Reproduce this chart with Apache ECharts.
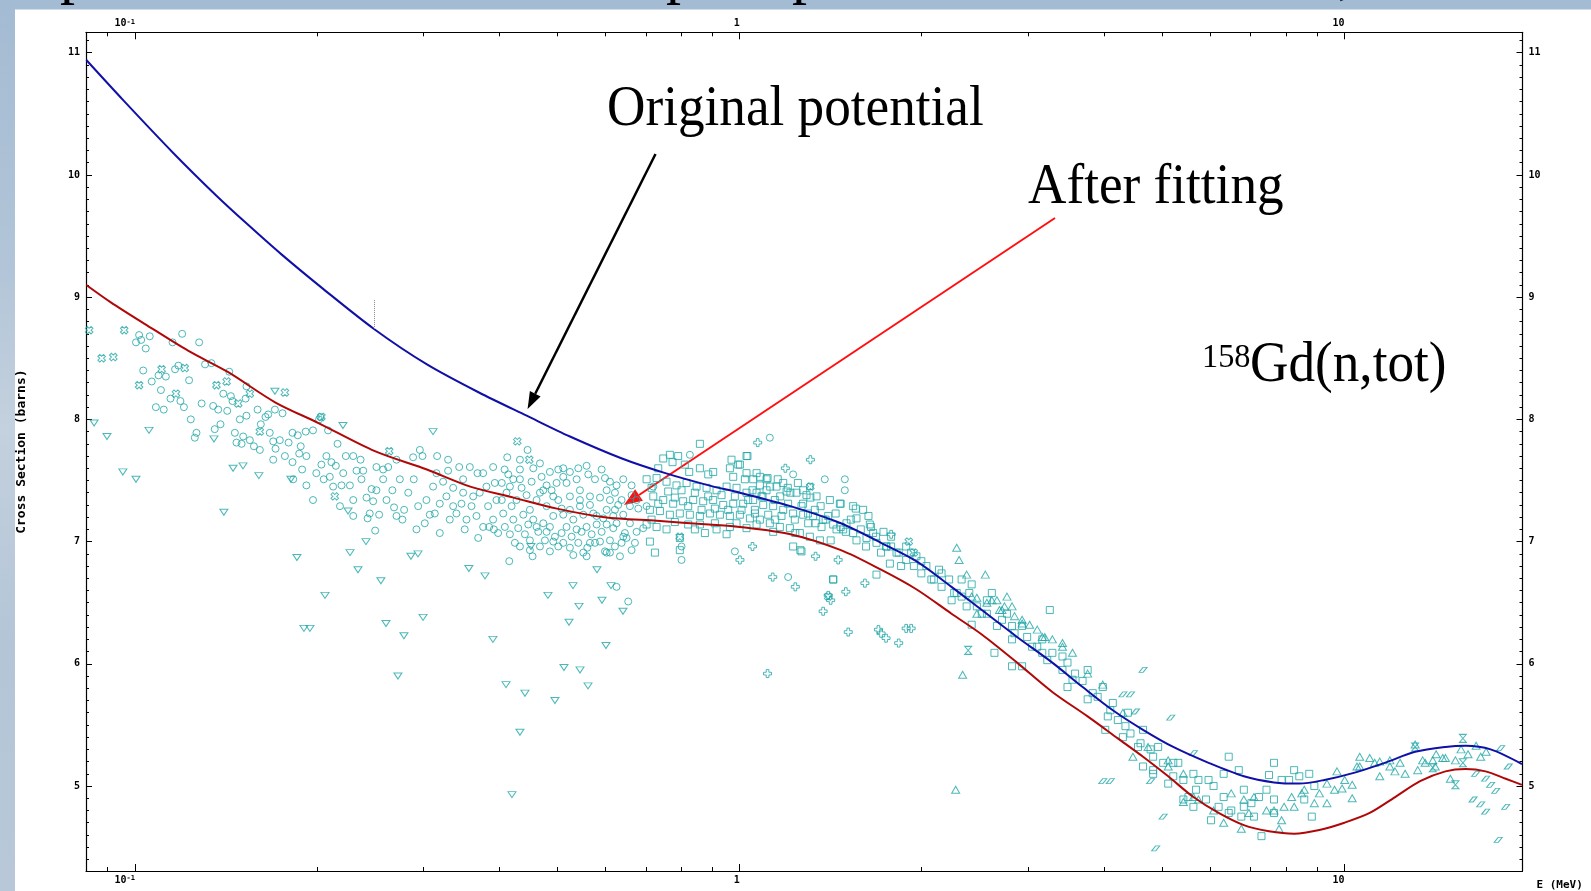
<!DOCTYPE html>
<html>
<head>
<meta charset="utf-8">
<title>158Gd(n,tot)</title>
<script src="https://cdn.jsdelivr.net/npm/echarts@6/dist/echarts.min.js"></script>
<style>
html, body { margin: 0; padding: 0; }
body {
  background: linear-gradient(180deg, #a3bbd3 0%, #b2c5d8 30%, #c4d1de 48%, #b3c5d7 72%, #b8c8d8 100%);
}
#chart { width: 1591px; height: 891px; }
</style>
</head>
<body>
<div id="chart"></div>
<script>
// axis ranges (E in MeV, cross section in barns)
var xMin = 0.083, xMax = 19.7;
var yMin = 4.305, yMax = 11.167;

// tick values and labels
var xMajor = [0.1, 1, 10];
var xMajorLabels = ['10{s|-1}', '1', '10'];
var xMinor = [0.09, 0.2, 0.3, 0.4, 0.5, 0.6, 0.7, 0.8, 0.9, 2, 3, 4, 5, 6, 7, 8, 9];
var yMajor = [5, 6, 7, 8, 9, 10, 11];

// calculated curves [E, sigma]
var originalCurve = [
  [0.0831,10.94],[0.0957,10.61],[0.1157,10.18],[0.1364,9.83],[0.1532,9.60],[0.1747,9.35],
  [0.2045,9.07],[0.2485,8.74],[0.3040,8.45],[0.3706,8.22],[0.4444,8.03],[0.5240,7.86],
  [0.6387,7.68],[0.7535,7.56],[0.8890,7.46],[1.000,7.40],[1.213,7.29],[1.470,7.15],
  [1.713,6.99],[1.959,6.84],[2.240,6.63],[2.514,6.44],[2.875,6.22],[3.288,6.01],
  [3.691,5.81],[4.140,5.62],[4.645,5.46],[5.211,5.32],[5.962,5.19],[6.818,5.08],
  [7.648,5.03],[8.420,5.02],[9.267,5.05],[10.40,5.11],[11.66,5.19],[13.09,5.28],
  [14.69,5.32],[15.86,5.33],[17.45,5.30],[19.66,5.18]
];
var fittedCurve = [
  [0.0831,9.10],[0.0911,8.96],[0.1039,8.78],[0.1226,8.56],[0.1422,8.39],[0.1705,8.14],
  [0.2011,7.97],[0.2493,7.74],[0.3039,7.59],[0.3585,7.45],[0.4229,7.36],[0.4986,7.27],
  [0.5978,7.20],[0.7294,7.17],[0.8890,7.14],[1.000,7.12],[1.213,7.06],[1.470,6.93],
  [1.713,6.77],[1.959,6.61],[2.240,6.41],[2.514,6.24],[2.875,6.01],[3.288,5.77],
  [3.761,5.57],[4.220,5.39],[4.645,5.24],[5.112,5.08],[5.627,4.91],[6.194,4.78],
  [6.818,4.68],[7.504,4.63],[8.260,4.61],[9.090,4.64],[10.00,4.70],[11.01,4.78],
  [12.13,4.91],[13.34,5.04],[14.69,5.12],[15.86,5.14],[17.12,5.12],[18.48,5.06],[19.66,5.01]
];
// small dotted marker on the original curve
var markerE = 0.2485;
var markerSpan = [8.74, 8.98];

// measured data sets [E, sigma]
var circles = [
  [0.1016,8.69],[0.1004,8.63],[0.1024,8.65],[0.1042,8.58],[0.1058,8.68],[0.1197,8.70],[0.1277,8.63],
  [0.1154,8.63],[0.1032,8.40],[0.1066,8.31],[0.1104,8.24],[0.1125,8.35],[0.1094,8.36],[0.1165,8.41],
  [0.1180,8.44],[0.1229,8.32],[0.1145,8.17],[0.1189,8.15],[0.1083,8.10],[0.1116,8.08],[0.1205,8.10],
  [0.1289,8.13],[0.1237,8.00],[0.1264,7.89],[0.1256,7.85],[0.1355,7.92],[0.1385,7.96],[0.1347,8.11],
  [0.1373,8.08],[0.1421,8.07],[0.1400,8.21],[0.1306,8.45],[0.1338,8.46],[0.1432,8.39],[0.1441,8.19],
  [0.1450,8.15],[0.1524,8.17],[0.1529,8.27],[0.1491,8.00],[0.1529,8.03],[0.1463,7.89],[0.1510,7.86],
  [0.1472,7.81],[0.1501,7.80],[0.1573,7.78],[0.1595,8.08],[0.1615,7.96],[0.1644,8.02],[0.1661,8.04],
  [0.1704,8.08],[0.1754,8.05],[0.1693,7.82],[0.1708,7.76],[0.1671,7.89],[0.1736,7.83],[0.1795,7.81],
  [0.1822,7.89],[0.1859,7.87],[0.1880,7.78],[0.1916,7.90],[0.1970,7.91],[0.2026,8.02],[0.2016,8.00],
  [0.2086,7.91],[0.2163,7.80],[0.1869,7.72],[0.1822,7.65],[0.1890,7.59],[0.1921,7.46],[0.2034,7.63],
  [0.2113,7.65],[0.2052,7.51],[0.2100,7.53],[0.2149,7.62],[0.2232,7.70],[0.2296,7.70],[0.2361,7.67],
  [0.2196,7.46],[0.2267,7.46],[0.2325,7.58],[0.2385,7.58],[0.2415,7.36],[0.2462,7.43],[0.2477,7.33],
  [0.2425,7.19],[0.2496,7.09],[0.2534,7.22],[0.2573,7.59],[0.2623,7.61],[0.2573,7.51],[0.2665,7.42],
  [0.2682,7.28],[0.2769,7.18],[0.2787,7.26],[0.2884,7.69],[0.2959,7.75],[0.2989,7.70],[0.3160,7.70],
  [0.3295,7.58],[0.3437,7.61],[0.3579,7.61],[0.3685,7.56],[0.2891,7.51],[0.2940,7.29],[0.3015,7.15],
  [0.3073,7.22],[0.3192,7.31],[0.3316,7.18],[0.3467,7.31],[0.3534,7.18],[0.3671,7.21],[0.3765,7.12],
  [0.3852,7.12],[0.3695,7.03],[0.3922,7.10],[0.3112,7.45],[0.3233,7.49],[0.3359,7.44],[0.3489,7.40],
  [0.3625,7.37],[0.3813,7.45],[0.3961,7.34],[0.3936,7.48],[0.3359,7.29],
  [0.1921,7.70],[0.1995,7.56],[0.2073,7.70],[0.2127,7.45],[0.2210,7.56],[0.2296,7.34],[0.2369,7.51],
  [0.2445,7.23],[0.2508,7.42],[0.2606,7.34],[0.2707,7.21],[0.2742,7.51],[0.2831,7.40],[0.2921,7.10],
  [0.3034,7.34],[0.3132,7.23],[0.3192,7.07],[0.3274,7.37],[0.3401,7.23],[0.3510,7.10],[0.3602,7.29],
  [0.3717,7.40],[0.3837,7.29],[0.3911,7.18],[0.3986,7.07],[0.3152,7.56],[0.3295,7.67],[0.3489,7.51],
  [0.3765,7.56],[0.3911,7.61],[0.2707,7.67],[0.2508,7.61],[0.2296,7.21],[0.2183,7.29],[0.1970,7.34],
  [0.1827,7.51],[0.1770,7.70],[0.1693,7.67],[0.1609,7.75],[0.1549,7.83],
  [0.4127,7.69],[0.4085,7.59],[0.4223,7.51],[0.4331,7.59],[0.4459,7.75],[0.4557,7.60],[0.4704,7.53],
  [0.4855,7.57],[0.5012,7.59],[0.5108,7.60],[0.5239,7.57],[0.4794,7.46],[0.4980,7.48],[0.5173,7.48],
  [0.5375,7.51],[0.5619,7.55],[0.5912,7.59],[0.6102,7.49],[0.6258,7.46],[0.6419,7.51],[0.4116,7.40],
  [0.4276,7.34],[0.4442,7.38],[0.4615,7.34],[0.4794,7.29],[0.5012,7.34],[0.5239,7.37],[0.5443,7.34],
  [0.5655,7.37],[0.5875,7.36],[0.6102,7.34],[0.6298,7.30],[0.4064,7.23],[0.4223,7.18],[0.4387,7.22],
  [0.4557,7.18],[0.4734,7.15],[0.4917,7.21],[0.5108,7.22],[0.5307,7.18],[0.5513,7.22],[0.5727,7.23],
  [0.5950,7.19],[0.6180,7.21],[0.6419,7.22],[0.4169,7.06],[0.4414,7.06],[0.4645,7.08],[0.4855,7.12],
  [0.5076,7.07],[0.5273,7.04],[0.5478,7.08],[0.5691,7.06],[0.5912,7.08],[0.6180,7.11],[0.6459,7.07],
  [0.4159,6.84],[0.4545,6.88],[0.5307,6.89],[0.5598,6.95],[0.5764,6.99],[0.5988,6.92],[0.6219,6.96],
  [0.6501,7.03],[0.6711,6.99],[0.6927,7.11],[0.6797,7.27],[0.7016,7.29],[0.7197,7.45],[0.8272,7.71],
  [0.8014,6.96],[0.8014,6.85],[0.6542,6.51],[0.9819,6.92],[1.2026,6.71],[1.1217,7.85],[1.3827,7.51],
  [1.4924,7.51],[1.4924,7.42],[1.2258,7.55],[1.3062,7.45],[0.6258,6.63],[0.6026,6.91],[0.5583,6.88],
  [0.5108,6.99],[0.4917,7.00],[0.4674,6.96],[0.4331,6.96],
  [0.4042,7.34],[0.4196,7.29],[0.4359,7.44],[0.4499,7.26],[0.4674,7.40],[0.4886,7.42],[0.5076,7.27],
  [0.5239,7.26],[0.5443,7.29],[0.5655,7.30],[0.5801,7.21],[0.6026,7.26],[0.6219,7.26],[0.6379,7.34],
  [0.6584,7.29],[0.4090,7.12],[0.4303,7.11],[0.4471,7.14],[0.4615,7.12],[0.4794,7.08],[0.4949,7.04],
  [0.5173,7.12],[0.5375,7.10],[0.5583,7.12],[0.5801,7.14],[0.6026,7.14],[0.6258,7.15],[0.6584,7.15],
  [0.6754,7.08],[0.4249,6.99],[0.4499,7.01],[0.4764,7.01],[0.5012,6.96],[0.5409,6.99],[0.5655,6.99],
  [0.5875,7.00],[0.6102,7.01],[0.6379,6.99],[0.5583,7.62],[0.5764,7.51],[0.5988,7.52],[0.5409,7.60],
  [0.4674,7.64],[0.4331,7.67],[0.4143,7.55],[0.4042,7.48],[0.4528,7.49],[0.5108,7.53],[0.6026,7.42],
  [0.6219,7.40],[0.6626,7.38],[0.6626,7.46],[0.6754,7.34],[0.5443,7.42],[0.4917,7.37],[0.4734,7.42],
  [0.4331,7.51],[0.4169,7.45],[0.6419,7.04],[0.6626,6.93],[0.5513,6.91],[0.5239,6.95],[0.4855,6.92],
  [0.4499,6.93],[0.6102,6.91],[0.6339,6.88]
];
var squares = [
  [0.8594,7.80],[0.7475,7.68],[0.7666,7.71],[0.7912,7.70],[0.7744,7.65],[0.8252,7.57],[0.8594,7.60],
  [0.9694,7.67],[0.9945,7.63],[1.0264,7.70],[0.9041,7.57],[0.9757,7.53],[1.0264,7.56],[1.0529,7.51],
  [1.0800,7.46],[1.1077,7.51],[0.7016,7.51],[0.7288,7.52],[0.7569,7.49],[0.7862,7.46],[0.8169,7.48],
  [0.8486,7.45],[0.8815,7.44],[0.9157,7.42],[0.9513,7.45],[0.9881,7.44],[1.0264,7.40],[1.0664,7.40],
  [1.1077,7.42],[1.1506,7.45],[1.1954,7.41],[1.2416,7.40],[1.2897,7.38],[1.3400,7.37],[1.4097,7.34],
  [1.4643,7.31],[1.5405,7.29],[1.6002,7.26],[0.7197,7.37],[0.7475,7.34],[0.7763,7.31],[0.8063,7.33],
  [0.8378,7.34],[0.8704,7.33],[0.9041,7.34],[0.9393,7.30],[0.9757,7.31],[1.0134,7.31],[1.0529,7.34],
  [1.0937,7.30],[1.1361,7.29],[1.1803,7.26],[1.2258,7.23],[1.2735,7.22],[1.3229,7.21],[1.3745,7.18],
  [1.4277,7.14],[1.4830,7.10],[1.5405,7.07],[1.6207,7.03],[1.6835,6.99],[1.7491,6.96],[1.8170,6.91],
  [0.7105,7.26],[0.7381,7.25],[0.7666,7.22],[0.7962,7.23],[0.8272,7.22],[0.8594,7.21],[0.8928,7.23],
  [0.9275,7.22],[0.9634,7.21],[1.0007,7.22],[1.0397,7.19],[1.0800,7.18],[1.1217,7.15],[1.1653,7.12],
  [1.2106,7.11],[1.2574,7.07],[1.3062,7.04],[1.3572,7.01],[0.7016,7.14],[0.7288,7.12],[0.7569,7.10],
  [0.8431,7.10],[0.8760,7.07],[0.9157,7.10],[0.9881,7.15],[1.0264,7.11],[1.2258,6.96],[1.2654,6.92],
  [1.4277,6.69],[1.5601,7.19],[1.6413,7.14],[1.6623,7.07],[1.7715,6.82],[1.6835,6.73],[0.7962,6.93],
  [0.7962,7.03],[0.7105,7.00],[0.7242,6.91],[0.9513,7.06],[0.8594,7.14],
  [0.7150,7.44],[0.7334,7.31],[0.7617,7.41],[0.7812,7.36],[0.8014,7.42],[0.8220,7.29],[0.8431,7.40],
  [0.8649,7.26],[0.8872,7.37],[0.9099,7.27],[0.9333,7.38],[0.9572,7.26],[0.9818,7.37],[1.0071,7.26],
  [1.0330,7.34],[1.0595,7.26],[1.0867,7.37],[1.1147,7.22],[1.1433,7.34],[1.1727,7.21],[1.2026,7.31],
  [1.2337,7.18],[1.2654,7.29],[1.2980,7.15],[1.3313,7.26],[1.3656,7.12],[1.4007,7.21],[1.4458,7.10],
  [1.5018,7.15],[1.5601,7.01],[0.7334,7.60],[0.8115,7.63],[0.8872,7.55],[0.9634,7.60],[1.0664,7.56],
  [1.1803,7.48],[1.2735,7.42],[0.7150,7.18],[0.7812,7.16],[0.8220,7.14],[0.9099,7.15],[0.9634,7.12],
  [1.0664,7.14],[1.1361,7.08],
  [1.030,7.70],[1.001,7.63],[1.112,7.52],[1.201,7.44],[1.309,7.36],[1.469,7.31],[1.556,7.27],
  [1.649,7.12],[1.780,7.04],[1.921,6.91],[1.997,6.84],[2.136,6.77],[2.328,6.69],[2.419,6.65],
  [2.612,6.58],[2.767,6.41],[2.931,6.31],[3.165,6.20],[3.418,6.06],[3.762,5.95],[3.985,5.81],
  [4.140,5.68],[4.385,5.60],[4.645,5.46],[4.920,5.32],[5.313,5.19],[5.736,5.05],[6.314,4.91],
  [6.818,4.83],[7.222,4.91],[7.648,5.19],[8.258,5.13],[8.747,5.10],[8.918,5.00],[8.832,4.75],
  [7.292,4.59],[6.018,4.72],[6.437,5.24],[6.688,5.13],[4.827,5.24],[7.648,4.78],[5.521,4.91],
  [5.112,5.02],[7.085,4.75],[1.060,7.23],[1.145,7.18],[1.236,7.07],[1.335,7.15],[1.414,7.01],
  [1.498,7.08],[1.618,6.96],[1.713,6.91],[1.849,6.80],[1.997,6.74],[2.157,6.63],[2.241,6.52],
  [2.373,6.47],[2.514,6.41],[2.663,6.31],[2.821,6.20],[2.931,5.98],[3.165,6.09],[3.418,5.95],
  [3.551,5.87],[3.835,5.76],[4.062,5.57],[4.302,5.40],[4.557,5.32],[4.827,5.13],[5.212,5.08],
  [5.416,4.89],[5.627,4.83],[6.076,5.00],[6.818,4.97],[7.504,5.09],[8.101,5.05],[1.260,6.93],
  [1.428,6.69],[3.257,6.44],[2.638,6.09],[2.821,5.98],[2.419,6.32],[4.645,5.16],[5.627,5.10],
  [6.437,4.78],[4.827,5.10],[4.344,5.49],[3.484,5.81],[3.762,5.71],[4.023,5.46],[3.045,6.14],
  [3.226,6.03],[2.821,6.31],[2.563,6.52],[2.285,6.58],[2.075,6.69],[1.885,6.85],[1.746,6.96],
  [1.020,7.51],[1.050,7.42],[1.081,7.53],[1.091,7.37],[1.123,7.45],[1.156,7.51],[1.167,7.37],
  [1.213,7.40],[1.248,7.48],[1.273,7.31],[1.297,7.23],[1.361,7.29],[1.387,7.18],[1.441,7.23],
  [1.469,7.12],[1.527,7.18],[1.586,7.10],[1.633,7.21],[1.680,7.04],[1.729,7.08],[1.780,6.96],
  [1.832,6.91],[1.885,6.96],[1.941,6.80],[1.960,6.88],[2.036,6.80],[2.095,6.69],[2.157,6.74],
  [2.220,6.69],[2.263,6.58],[2.328,6.55],[2.397,6.58],[2.467,6.47],[2.563,6.41],[2.715,6.36],
  [2.848,6.25],[2.988,6.22],[3.105,6.14],[3.289,6.09],[3.484,6.01],[3.586,5.92],[3.690,5.86],
  [3.908,5.73],[4.101,5.62],[4.220,5.54],[4.428,5.43],[4.601,5.35],[4.781,5.30],[5.015,5.19],
  [5.212,5.19],[5.416,5.05],[5.682,4.97],[5.903,4.89],[6.194,4.83],[6.499,4.80],[6.753,4.75],
  [7.018,4.86],[7.433,4.97],[7.872,5.05],[8.421,5.08],[8.582,4.89],[6.314,5.10],[5.961,5.05],[7.648,4.89]
];
var trianglesUp = [
  [2.285,6.95],[2.306,6.85],[2.373,6.73],[2.548,6.73],[2.821,6.47],[2.612,6.52],[2.419,6.55],
  [2.715,6.44],[2.931,6.33],[3.165,6.22],[3.418,6.14],[3.762,5.92],[3.985,5.83],[4.302,5.60],
  [4.470,5.24],[4.735,5.32],[5.112,5.16],[5.416,4.87],[5.627,4.91],[6.076,4.80],[6.314,4.70],
  [6.753,4.65],[6.950,4.78],[7.648,4.80],[7.872,4.72],[7.797,4.65],[8.179,4.91],[8.258,4.83],
  [8.582,4.97],[8.918,4.86],[9.357,4.86],[9.721,5.12],[9.911,4.98],[10.30,5.01],[10.60,5.24],
  [11.01,5.23],[11.44,5.20],[11.89,5.16],[12.12,5.12],[12.60,5.10],[13.22,5.13],[13.47,5.21],
  [14.00,5.21],[14.54,5.23],[14.97,5.06],[10.60,5.16],[11.44,5.08],[9.357,5.02],[10.30,4.90],
  [2.276,4.97],[2.337,5.91],[13.09,5.34],[15.59,5.30],[16.51,5.33],[17.15,5.28],[14.18,5.26],
  [2.467,6.54],[2.563,6.50],[2.663,6.52],[2.689,6.44],[2.741,6.47],[2.848,6.39],[2.931,6.36],
  [3.016,6.32],[3.105,6.28],[3.195,6.22],[3.289,6.20],[3.418,6.17],[3.551,6.09],[2.767,6.55],
  [2.467,6.41],[5.112,5.21],[5.416,5.10],[5.736,4.89],[6.499,4.94],[6.818,4.89],[7.085,4.91],
  [7.433,4.80],[7.947,4.83],[8.501,4.94],[9.092,4.94],[9.630,4.97],[10.01,5.05],[10.49,5.16],
  [11.22,5.19],[11.89,5.21],[12.36,5.19],[13.60,5.19],[14.13,5.16],[14.69,5.23],[15.26,5.21],
  [16.01,5.26],[16.80,5.24]
];
var trianglesDown = [
  [0.0856,7.97],[0.0899,7.86],[0.0955,7.57],[0.1004,7.51],[0.1055,7.91],[0.1351,7.84],[0.1403,7.24],
  [0.1453,7.60],[0.1509,7.62],[0.1603,7.54],[0.1704,8.23],[0.1811,7.51],[0.2208,7.95],[0.2251,7.25],
  [0.2410,7.00],[0.3111,7.90],[0.1853,6.87],[0.1903,6.29],[0.1947,6.29],[0.2062,6.56],[0.2268,6.91],
  [0.2338,6.77],[0.2551,6.68],[0.2601,6.33],[0.2722,5.90],[0.2785,6.23],[0.2860,6.88],[0.2938,6.90],
  [0.2995,6.38],[0.3566,6.78],[0.3792,6.72],[0.3908,6.20],[0.4517,6.96],[0.5808,6.77],[0.5301,6.64],
  [0.6126,6.64],[0.4819,6.56],[0.5424,6.47],[0.5920,6.52],[0.5221,6.34],[0.6412,6.43],[0.6010,6.15],
  [0.4108,5.83],[0.4202,4.93],[0.4331,5.44],[0.4415,5.76],[0.4949,5.70],[0.5122,5.97],[0.5445,5.95],
  [0.5613,5.82]
];
var plusMarks = [
  [1.071,7.81],[1.190,7.60],[1.309,7.67],[1.001,6.85],[1.134,6.71],[1.236,6.63],[1.374,6.43],
  [1.401,6.56],[1.414,6.52],[1.498,6.59],[1.512,6.26],[1.611,6.66],[1.696,6.28],[1.713,6.25],
  [1.746,6.21],[1.832,6.17],[1.885,6.29],[1.921,6.29],[1.112,5.92],[1.050,6.96],[1.335,6.88],
  [1.780,7.06],[1.455,6.85]
];
var crossMarks = [
  [0.0840,8.73],[0.0881,8.50],[0.0921,8.51],[0.0960,8.73],[0.1107,8.41],[0.1209,8.42],[0.1016,8.28],
  [0.1169,8.21],[0.1364,8.28],[0.1418,8.31],[0.1482,8.13],[0.1609,7.90],[0.1770,8.22],[0.1549,8.21],
  [0.2140,7.37],[0.2633,7.74],[0.2034,8.02],[0.4288,7.82],[0.4488,7.67],[0.7962,7.04],[1.401,6.55],
  [1.904,7.00],[1.941,6.91],[1.309,7.45]
];
var slantMarks = [
  [4.645,5.95],[4.302,5.75],[4.428,5.75],[4.514,5.61],[5.162,5.56],[5.627,5.27],[4.781,5.04],
  [3.985,5.04],[4.100,5.04],[5.015,4.75],[4.874,4.49],[17.12,5.06],[17.79,4.96],[18.48,4.83],
  [18.66,5.16],[16.32,4.89],[16.80,4.85],[17.12,4.79],[17.96,4.56],[17.45,5.01],[18.13,5.31],[16.48,5.10]
];
var hourglassMarks = [
  [2.387,6.11],[15.70,5.39],[15.70,5.19],[15.26,5.01],[14.00,5.15],[13.09,5.32]
];

var teal = '#1fa6a6';
var tickFont = { fontFamily: 'DejaVu Sans Mono', fontWeight: 'bold', fontSize: 10, color: '#000' };
var serif = 'Liberation Serif';

function scatter(name, data, symbol, size, rotate) {
  return {
    name: name, type: 'scatter', data: data, symbol: symbol, symbolSize: size,
    symbolRotate: rotate || 0, silent: true, z: 2,
    itemStyle: { color: 'rgba(0,0,0,0)', borderColor: teal, borderWidth: 1 }
  };
}

function xAx(pos, values, len, labels) {
  return {
    type: 'log', logBase: 10, min: xMin, max: xMax, position: pos,
    axisLine: { show: labels, lineStyle: { color: '#000', width: 1.2 } },
    axisTick: { inside: true, length: len, customValues: values, lineStyle: { color: '#000' } },
    axisLabel: labels ? Object.assign({
      customValues: xMajor, margin: 4, align: 'right',
      formatter: function (v) {
        var i = 0, best = 1e9;
        xMajor.forEach(function (m, k) { var d = Math.abs(Math.log(v / m)); if (d < best) { best = d; i = k; } });
        return xMajorLabels[i];
      },
      rich: { s: { fontFamily: 'DejaVu Sans Mono', fontWeight: 'bold', fontSize: 7, verticalAlign: 'top', color: '#000' } }
    }, tickFont) : { show: false },
    splitLine: { show: false }, minorTick: { show: false }
  };
}

function yAx(pos, values, len, labels) {
  return {
    type: 'value', min: yMin, max: yMax, position: pos,
    axisLine: { show: labels, lineStyle: { color: '#000', width: 1.2 } },
    axisTick: { inside: true, length: len, customValues: values, lineStyle: { color: '#000' } },
    axisLabel: labels ? Object.assign({ customValues: yMajor, margin: 6 }, tickFont) : { show: false },
    splitLine: { show: false }
  };
}

var yMinor = [];
for (var t = 44; t <= 111; t++) { if (t % 10 !== 0) yMinor.push(t / 10); }

function arrow(x1, y1, x2, y2, color, width, headLen, headHalf) {
  var dx = x2 - x1, dy = y2 - y1, l = Math.sqrt(dx * dx + dy * dy);
  var ux = dx / l, uy = dy / l, bx = x2 - ux * headLen, by = y2 - uy * headLen;
  return [
    { type: 'line', shape: { x1: x1, y1: y1, x2: bx, y2: by }, style: { stroke: color, lineWidth: width } },
    { type: 'polygon', shape: { points: [[x2, y2], [bx - uy * headHalf, by + ux * headHalf], [bx + uy * headHalf, by - ux * headHalf]] },
      style: { fill: color } }
  ];
}

function slideText(x, y, text, size, sx) {
  return { type: 'text', x: x, y: y, scaleX: sx || 1, style: { text: text, fontFamily: serif, fontSize: size, fill: '#000', align: 'left', verticalAlign: 'middle' } };
}

var graphics = [
  { type: 'rect', z: -10, shape: { x: 15, y: 9.5, width: 1600, height: 900 }, style: { fill: '#fff' } },
  slideText(60, -24, 'p', 60), slideText(666, -24, 'p', 60), slideText(792, -24, 'p', 60), slideText(1338, -24, ',', 60),
  slideText(607, 110, 'Original potential', 56, 0.95),
  slideText(1028, 188, 'After fitting', 56, 0.95),
  slideText(1202, 358, '158', 34, 0.95),
  slideText(1250, 366, 'Gd(n,tot)', 56, 0.95)
].concat(arrow(655.5, 154, 527.6, 409, '#000', 2.5, 17, 6))
 .concat(arrow(1055, 218, 624, 505, '#ff1010', 2, 18, 7));

var chart = echarts.init(document.getElementById('chart'));
chart.setOption({
  animation: false,
  backgroundColor: 'transparent',
  grid: { left: 86, right: 68.5, top: 32.3, bottom: 20 },
  xAxis: [
    Object.assign(xAx('bottom', xMajor, 7, true), {
      name: 'E (MeV)', nameLocation: 'end', nameGap: 14,
      nameTextStyle: { fontFamily: 'DejaVu Sans Mono', fontWeight: 'bold', fontSize: 11, color: '#000', verticalAlign: 'top', padding: [9, 0, 0, 0] }
    }),
    xAx('bottom', xMinor, 4, false),
    xAx('top', xMajor, 7, true),
    xAx('top', xMinor, 4, false)
  ],
  yAxis: [
    Object.assign(yAx('left', yMajor, 6, true), {
      name: 'Cross Section (barns)', nameLocation: 'middle', nameGap: 58, nameRotate: 90,
      nameTextStyle: { fontFamily: 'DejaVu Sans Mono', fontWeight: 'bold', fontSize: 13, color: '#000' }
    }),
    yAx('left', yMinor, 3, false),
    yAx('right', yMajor, 6, true),
    yAx('right', yMinor, 3, false)
  ],
  graphic: graphics,
  series: [
    scatter('circles', circles, 'circle', 7),
    scatter('squares', squares, 'rect', 7),
    scatter('trianglesUp', trianglesUp, 'path://M5,0L10,8L0,8Z', [8, 7]),
    scatter('trianglesDown', trianglesDown, 'path://M0,0L10,0L5,8Z', [8, 6]),
    scatter('plus', plusMarks, 'path://M3,0H6V3H9V6H6V9H3V6H0V3H3Z', 8),
    scatter('cross', crossMarks, 'path://M3,0H6V3H9V6H6V9H3V6H0V3H3Z', 8, 45),
    scatter('slant', slantMarks, 'path://M5,0L10,0L5,7L0,7Z', [8, 5]),
    scatter('hourglass', hourglassMarks, 'path://M0,0L8,0L0,9L8,9Z', [7, 8]),
    {
      name: 'original', type: 'line', data: originalCurve, showSymbol: false, smooth: 0.3, z: 3, silent: true,
      lineStyle: { color: '#1010a8', width: 2 },
      markLine: {
        silent: true, symbol: ['none', 'none'], label: { show: false },
        lineStyle: { color: '#888', type: 'dotted', width: 1 },
        data: [[{ coord: [markerE, markerSpan[0]] }, { coord: [markerE, markerSpan[1]] }]]
      }
    },
    {
      name: 'fitted', type: 'line', data: fittedCurve, showSymbol: false, smooth: 0.3, z: 3, silent: true,
      lineStyle: { color: '#b00808', width: 2 }
    }
  ]
});
window.addEventListener('resize', function () { chart.resize(); });
</script>
</body>
</html>
